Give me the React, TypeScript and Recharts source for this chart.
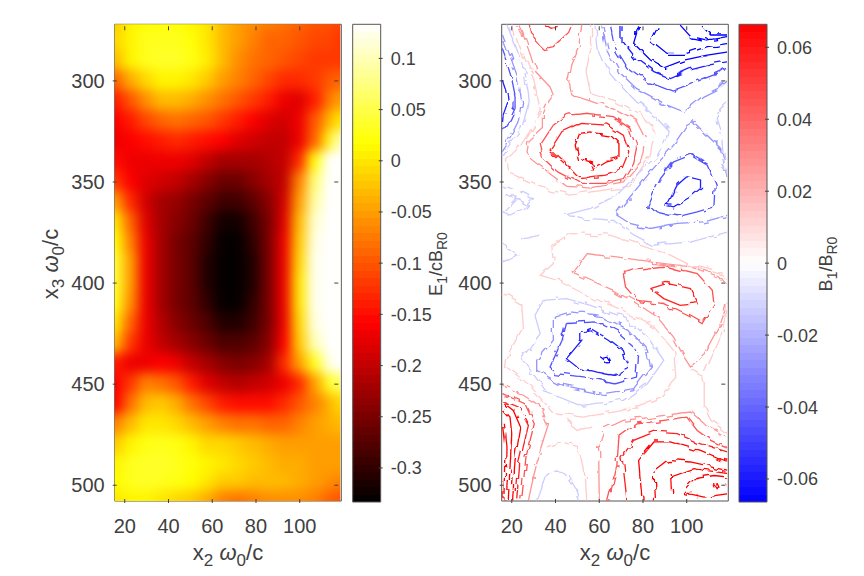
import { ReferenceArea, Scatter, ScatterChart, XAxis, YAxis } from 'recharts';

const W = 864;
const H = 576;
const FONT = '"Liberation Sans", Arial, sans-serif';
const INK = '#404040';

const xDomain = [15.4, 119];
const yDomain = [272, 507.8];
const xTicks = [20, 40, 60, 80, 100];
const yTicks = [300, 350, 400, 450, 500];
const eBarDomain = [-0.3333, 0.1333];
const eBarTicks = [0.1, 0.05, 0, -0.05, -0.1, -0.15, -0.2, -0.25, -0.3];
const bBarDomain = [-0.0664, 0.0664];
const bBarTicks = [0.06, 0.04, 0.02, 0, -0.02, -0.04, -0.06];

const heatX = [16, 23, 30, 37, 44, 51, 58, 65, 72, 79, 86, 93, 100, 107, 114, 119];
const heatY = [272, 280, 290, 300, 310, 320, 330, 340, 350, 360, 370, 380, 390, 400, 410, 420, 430, 440, 450, 460, 470, 480, 490, 500, 508];
const heatRows = [
  [-0.02, 0.01, 0.015, 0.02, 0.02, 0.01, 0, -0.03, -0.05, -0.06, -0.07, -0.08, -0.09, -0.1, -0.1, -0.11],
  [-0.01, 0.01, 0.03, 0.03, 0.03, 0.02, 0, -0.03, -0.05, -0.07, -0.09, -0.09, -0.1, -0.11, -0.11, -0.12],
  [-0.03, 0.01, 0.03, 0.035, 0.035, 0.025, 0.005, -0.03, -0.06, -0.08, -0.09, -0.1, -0.11, -0.12, -0.12, -0.12],
  [-0.09, -0.04, -0.01, 0.01, 0.01, 0, -0.02, -0.05, -0.07, -0.09, -0.11, -0.13, -0.13, -0.12, -0.1, -0.09],
  [-0.14, -0.1, -0.06, -0.03, -0.03, -0.04, -0.06, -0.08, -0.1, -0.12, -0.14, -0.17, -0.18, -0.14, -0.08, -0.05],
  [-0.16, -0.14, -0.11, -0.09, -0.08, -0.09, -0.1, -0.12, -0.14, -0.16, -0.18, -0.19, -0.17, -0.1, -0.04, 0],
  [-0.17, -0.16, -0.15, -0.14, -0.13, -0.14, -0.15, -0.16, -0.18, -0.19, -0.2, -0.2, -0.17, -0.09, 0.01, 0.1],
  [-0.15, -0.17, -0.17, -0.17, -0.17, -0.18, -0.2, -0.22, -0.22, -0.22, -0.21, -0.2, -0.13, 0.02, 0.133, 0.133],
  [-0.12, -0.16, -0.18, -0.19, -0.2, -0.22, -0.24, -0.26, -0.26, -0.24, -0.22, -0.2, -0.07, 0.07, 0.133, 0.133],
  [-0.05, -0.13, -0.19, -0.22, -0.23, -0.25, -0.27, -0.29, -0.29, -0.27, -0.24, -0.19, -0.05, 0.09, 0.133, 0.133],
  [0, -0.09, -0.18, -0.22, -0.24, -0.26, -0.29, -0.32, -0.32, -0.29, -0.25, -0.18, -0.03, 0.11, 0.133, 0.133],
  [0.02, -0.07, -0.17, -0.22, -0.25, -0.27, -0.3, -0.33, -0.33, -0.3, -0.25, -0.17, -0.02, 0.12, 0.133, 0.133],
  [0.04, -0.05, -0.17, -0.22, -0.25, -0.27, -0.31, -0.33, -0.33, -0.31, -0.25, -0.17, -0.01, 0.125, 0.133, 0.133],
  [0.04, -0.05, -0.17, -0.22, -0.25, -0.27, -0.31, -0.33, -0.33, -0.31, -0.25, -0.17, 0, 0.125, 0.133, 0.133],
  [0.03, -0.06, -0.17, -0.22, -0.25, -0.27, -0.3, -0.33, -0.33, -0.3, -0.25, -0.17, 0, 0.125, 0.133, 0.133],
  [0, -0.09, -0.17, -0.21, -0.24, -0.26, -0.28, -0.31, -0.31, -0.29, -0.25, -0.17, -0.01, 0.12, 0.133, 0.133],
  [-0.03, -0.12, -0.17, -0.2, -0.22, -0.24, -0.26, -0.28, -0.28, -0.27, -0.24, -0.16, -0.02, 0.1, 0.133, 0.133],
  [-0.14, -0.17, -0.17, -0.16, -0.17, -0.2, -0.22, -0.24, -0.25, -0.24, -0.22, -0.13, -0.05, 0.03, 0.12, 0.133],
  [-0.16, -0.12, -0.07, -0.08, -0.1, -0.14, -0.18, -0.2, -0.21, -0.2, -0.19, -0.17, -0.13, -0.05, 0.03, 0.06],
  [-0.16, -0.08, -0.03, -0.02, -0.04, -0.08, -0.11, -0.14, -0.15, -0.15, -0.15, -0.13, -0.1, -0.07, -0.04, -0.01],
  [-0.07, -0.03, 0, 0, -0.01, -0.03, -0.05, -0.07, -0.08, -0.08, -0.09, -0.09, -0.07, -0.05, -0.04, -0.03],
  [-0.02, 0.01, 0.025, 0.03, 0.025, 0.01, -0.01, -0.01, -0.02, -0.03, -0.04, -0.05, -0.05, -0.05, -0.05, -0.05],
  [0.01, 0.03, 0.035, 0.035, 0.03, 0.02, 0.01, 0, -0.01, -0.02, -0.03, -0.04, -0.04, -0.05, -0.05, -0.05],
  [0.015, 0.03, 0.035, 0.03, 0.025, 0.015, 0, -0.02, -0.02, -0.03, -0.03, -0.03, -0.04, -0.05, -0.06, -0.07],
  [0, 0.01, 0.01, 0, -0.01, -0.02, -0.04, -0.07, -0.08, -0.07, -0.06, -0.06, -0.06, -0.07, -0.09, -0.1],
];

type Contour = [number, number[][]];

const contoursTop: Contour[] = [
  [0.02, [[28, 272], [29, 277], [33, 282], [35, 284], [39, 283], [43, 279], [46, 276], [47.5, 272]]],
  [0.03, [[35, 272], [38, 274], [41, 273]]],
  [0.01, [[23, 272], [25, 276.5], [28, 285.5], [31, 295.5], [37.5, 303], [39, 307], [37, 310], [34, 317], [34, 323], [28, 329], [27, 335], [28, 338], [35, 344], [45, 352], [56, 353], [71, 350], [79, 340], [81, 328.5], [77, 320], [66.5, 314], [56, 310], [47.5, 307], [46, 300.5], [47.5, 292], [50.5, 284], [52, 272]]],
  [0.005, [[20, 272], [24, 284], [30, 299], [32, 309], [33, 314], [30, 322], [24, 332], [18, 338.5], [18.5, 345], [25, 348], [37.5, 354], [47, 356.5], [56, 355], [74, 352], [83, 337], [86, 325], [80, 317], [68, 310], [56, 306], [54, 295.5], [56, 284], [56, 272]]],
  [-0.03, [[15.7, 299.6], [17.3, 305], [18, 311], [16, 317], [15.7, 320]]],
  [-0.02, [[15.7, 285], [17.6, 290.5], [20, 299], [21.5, 307], [21.5, 313.6], [19, 319.4], [15.7, 325]]],
  [-0.01, [[15.7, 277], [19, 287], [23, 299], [24.5, 310], [23, 320], [19, 328.5], [15.7, 334]]],
  [-0.005, [[17.6, 272], [21.5, 282], [26, 295.5], [28, 310], [24.5, 323.5], [20, 330], [15.7, 336.7]]],
];

const contoursTopRight: Contour[] = [
  [-0.005, [[58, 272], [59, 284], [63, 294], [68, 300.4], [77, 310.3], [85, 317], [92, 325], [86.5, 337], [77, 346.6], [68, 356.5], [56, 363], [44, 366.4], [54, 368], [66.5, 369], [76, 376.3], [85, 381.3], [102, 379.6], [119, 374.7]]],
  [-0.01, [[61, 272], [63.5, 284], [69, 295.5], [77, 303.7], [91, 312], [98.7, 315.3], [108, 307], [115.5, 303], [119, 299.6]]],
  [-0.01, [[119, 350], [115.5, 333.4], [103, 320.2], [100, 322], [94, 331.8], [83.4, 345], [71, 361.5], [68, 366.4], [74, 370.5], [83.4, 373], [95.6, 370.5], [108, 369.7], [119, 366.4]]],
  [-0.005, [[119, 310.3], [115.5, 313.6], [113, 318.6], [116, 328.5], [117, 340], [119, 348.3]]],
  [-0.02, [[65, 273], [67, 283], [72.7, 293], [82, 300.4], [93, 305], [103, 301], [112.4, 297], [119, 293.8]]],
  [-0.03, [[70.4, 273], [70.4, 280], [77, 289], [85, 295.4], [92.6, 298.8], [101.7, 294.6], [111, 292], [119, 290.5]]],
  [-0.04, [[78, 273], [75.7, 281.4], [83.4, 289.7], [89.5, 293.5], [98.7, 289.7], [109.4, 287.2], [119, 285.6]]],
  [-0.05, [[86.5, 273], [83.4, 279.8], [91, 286.4], [100, 286.4], [109.4, 283], [119, 281.4]]],
  [-0.055, [[97, 272.4], [101.7, 278], [109.4, 279.8], [119, 278]]],
  [-0.06, [[107, 273], [111, 277.3], [119, 277.3]]],
  [-0.02, [[94, 340], [88, 348.3], [82.6, 361.5], [85.7, 364.8], [95.6, 367.2], [104.8, 364.8], [112.4, 362.3], [113, 351.6], [109.4, 341.7], [101.7, 336.7], [94, 340]]],
  [-0.03, [[100, 347.4], [95.6, 351.6], [91, 361.5], [94, 362.3], [101.7, 357.3], [106.3, 353.2], [106.3, 349], [100, 347.4]]],
];

const contoursCentre: Contour[] = [
  [0.02, [[45, 317], [39, 321.9], [33, 331.8], [34.5, 338.4], [41, 345], [51, 350.7], [62, 350.7], [71, 348.3], [75.7, 340], [77, 333.4], [74, 323.5], [66.5, 317.7], [54, 316], [45, 317]]],
  [0.03, [[51, 321], [43, 325], [37.5, 334.2], [45, 341.7], [51, 348.3], [62, 346.6], [70.4, 343.3], [73.5, 335], [71, 326.8], [63.5, 321.9], [51, 321]]],
  [0.04, [[51, 326], [49, 331.8], [50.5, 338.4], [56, 340], [57.4, 344], [63.5, 340], [69, 338.4], [69, 331], [65, 326.8], [56, 325.2], [51, 326]]],
  [-0.005, [[30.6, 416], [34.5, 408.5], [45, 407.7], [56, 411], [71, 416.8], [82, 426.7], [89.5, 438.2], [82, 449.8], [71, 458], [51, 460.5], [36, 453.9], [24.5, 437.4], [33, 425], [30.6, 416]]],
  [-0.01, [[39, 416.8], [46.7, 414.3], [60.5, 416], [74, 423.4], [82, 433.3], [83.4, 441.5], [75.7, 452.2], [62, 454.7], [43.6, 450.6], [31.4, 443.2], [31.4, 438.2], [39, 428.3], [39, 416.8]]],
  [-0.02, [[45, 420], [59, 419.2], [68, 424.2], [75.7, 431.6], [78, 436.5], [77, 446.5], [66.6, 449.8], [52.8, 446.5], [40.6, 444.8], [37.5, 441.5], [43, 428.3], [45, 420]]],
  [-0.03, [[52, 424.2], [56, 422.5], [65, 428.3], [71, 433.3], [73.5, 441.5], [66.6, 445.6], [59, 444], [49.8, 441.5], [45, 437.4], [52, 428.3], [52, 424.2]]],
  [-0.04, [[60.5, 436.5], [63.5, 435.7], [65, 438.2], [62.8, 438.5], [60.5, 436.5]]],
  [0.005, [[15.7, 404.4], [24.5, 410.2], [25.3, 421.7], [18.4, 434.9], [17.6, 441.5], [28.3, 450.6], [39, 464.6], [52.8, 466.3], [71, 463], [88, 456.4], [95, 446.5], [94, 433.3], [85, 421.7], [71, 413.5], [56, 406.9], [40.6, 398.6], [33, 396.1], [39, 390.4], [38.3, 381.3], [46.7, 375.5], [65, 376.3], [78.8, 381.3], [92.6, 386.2], [101.7, 391.2], [115.5, 395.3], [119, 398.6]]],
  [0.005, [[101.7, 443.2], [108, 446.5], [108, 461.3], [111, 467.9], [119, 474.5]]],
  [0.005, [[108, 444.8], [115.5, 426.7], [119, 410.2]]],
  [0.01, [[47.5, 394.5], [53.6, 385.4], [68, 387], [83.4, 389.5], [101.7, 392], [115.5, 397], [119, 402], [119, 408.5], [115.5, 420], [108, 434.9], [101.7, 441.5], [98.7, 436.5], [94, 426.7], [86.5, 416.8], [77.3, 410.2], [66.6, 403.6], [56, 398.6], [47.5, 394.5]]],
  [0.02, [[71, 395.3], [77.3, 392.8], [89.5, 391.2], [104.8, 395.3], [111.7, 403.6], [112.4, 410.2], [107, 420], [101.7, 416.8], [89.5, 410.2], [77.3, 408.5], [72, 401.9], [71, 395.3]]],
  [0.03, [[83.4, 402.7], [91, 400.2], [101.7, 402.7], [104.8, 410.2], [97, 411], [89.5, 407.7], [83.4, 402.7]]],
];

const contoursBottom: Contour[] = [
  [0.01, [[60, 507.5], [59.7, 481], [62.8, 472], [71, 467.9], [83.4, 466.3], [101.7, 463.8], [108, 469.6], [119, 476.2]]],
  [0.02, [[64.3, 507.5], [68, 491], [69, 476.2], [77.3, 469.6], [89.5, 467.9], [100, 466.3], [104.8, 472.9], [111, 477.8], [119, 482]]],
  [0.03, [[72.7, 507.5], [70.4, 486], [75.7, 477.8], [85, 473.7], [95.6, 474.5], [106.3, 479.5], [119, 483.6]]],
  [0.04, [[79.6, 507.5], [78, 487.7], [85, 478.6], [93.3, 478.6], [106.3, 482.8], [119, 488.5]]],
  [0.05, [[85.7, 507.5], [85, 492.7], [91, 487.7], [101.7, 488.5], [119, 492.7]]],
  [0.055, [[93.3, 507.5], [92.6, 496], [103.3, 491.8], [119, 494.3]]],
  [0.06, [[97.9, 503.4], [103.3, 496.8], [112.4, 495.2], [119, 496], [119, 504.2], [107.9, 505.9], [97.9, 503.4]]],
  [0.065, [[112, 500], [114, 499.3], [114.7, 501], [113, 501.7], [112, 500]]],
  [0.01, [[15.7, 450.6], [25.3, 455.5], [33.7, 461.3], [36.8, 469.6], [32.9, 482.8], [29.9, 496], [27.6, 507.5]]],
  [0.02, [[15.7, 454.7], [26, 459.7], [30.3, 469.6], [26.5, 486], [24.5, 507.5]]],
  [0.03, [[15.7, 458], [23, 461.3], [27.6, 470.4], [23.8, 487.7], [22.2, 507.5]]],
  [0.04, [[15.7, 458.8], [20.7, 463], [24, 471.2], [21.5, 487.7], [20.4, 507.5]]],
  [0.05, [[15.7, 462], [19.2, 466.3], [20, 474.5], [19.2, 491], [18.4, 507.5]]],
  [0.06, [[15.7, 469.6], [16.9, 481], [16.4, 507.5]]],
  [0.005, [[36, 481], [42.9, 478.6], [50.5, 481], [53.6, 496], [54.3, 507.5]]],
  [0.005, [[44.4, 467.9], [49.8, 472.9], [55.9, 471.2]]],
  [-0.005, [[31.4, 507.5], [35.2, 496], [38.3, 492.7], [45.2, 494.3], [49.8, 502.6], [51.3, 507.5]]],
  [-0.005, [[16, 351.6], [23.8, 354.9], [29.9, 358.2], [25.3, 363.1], [19.2, 366.4], [16, 364.8], [22, 358], [27, 361], [18, 356]]],
  [-0.005, [[16, 381.3], [22.2, 386.2], [16, 389.5]]],
  [-0.005, [[25.3, 378], [33, 376.3]]],
];

const allContours = [...contoursTop, ...contoursTopRight, ...contoursCentre, ...contoursBottom];

const heatPoints = heatRows.flatMap((row, r) => row.map((v, c) => ({ x: heatX[c], y: heatY[r], v, r, c })));

function hot(t: number) {
  const k = Math.max(0, Math.min(1, t));
  const r = Math.min(1, k / 0.375);
  const g = Math.max(0, Math.min(1, (k - 0.375) / 0.375));
  const b = Math.max(0, Math.min(1, (k - 0.75) / 0.25));
  return `rgb(${Math.round(r * 255)},${Math.round(g * 255)},${Math.round(b * 255)})`;
}

function bwr(t: number) {
  // t goes 0 (blue) to 1 (red)
  if (t < 0.5) {
    const c = Math.round((t / 0.5) * 255);
    return `rgb(${c},${c},255)`;
  }
  const c = Math.round(((1 - t) / 0.5) * 255);
  return `rgb(255,${c},${c})`;
}

function levelColor(level: number) {
  const a = Math.abs(level);
  const shade = a <= 0.005 ? 0.8 : a <= 0.01 ? 0.58 : a <= 0.02 ? 0.32 : a <= 0.03 ? 0.12 : 0;
  const c = Math.round(shade * 255);
  return level > 0 ? `rgb(255,${c},${c})` : `rgb(${c},${c},255)`;
}

function bandStops(colorAt: (t: number) => string) {
  const n = 64;
  const stops = [];
  for (let i = 0; i < n; i++) {
    const color = colorAt(1 - (i + 0.5) / n);
    stops.push(<stop key={`a${i}`} offset={i / n} stopColor={color} />);
    stops.push(<stop key={`b${i}`} offset={(i + 1) / n} stopColor={color} />);
  }
  return stops;
}

function HeatCell(props: any) {
  const { cx, cy, payload } = props;
  if (cx == null) return null;
  const pad = 34;
  let left = cx - 8.5;
  let right = cx + 8.5;
  let top = cy - 11;
  let bottom = cy + 11;
  if (payload.c === 0) left -= pad;
  if (payload.c === heatX.length - 1) right += pad;
  if (payload.r === 0) top -= pad;
  if (payload.r === heatY.length - 1) bottom += pad;
  const t = (payload.v - eBarDomain[0]) / (eBarDomain[1] - eBarDomain[0]);
  return <rect x={left} y={top} width={right - left} height={bottom - top} fill={hot(t)} />;
}

const makeXTick = (plotH: number) => (p: any) => (
  <g>
    <line x1={p.x} x2={p.x} y1={p.y} y2={p.y - 4} stroke={INK} />
    <line x1={p.x} x2={p.x} y1={p.y - plotH} y2={p.y - plotH + 4} stroke={INK} />
    <text x={p.x} y={p.y + 30} textAnchor="middle" fontSize={20} fontFamily={FONT} fill={INK}>
      {p.payload.value}
    </text>
  </g>
);

const makeYTick = (plotW: number) => (p: any) => (
  <g>
    <line x1={p.x} x2={p.x + 4} y1={p.y} y2={p.y} stroke={INK} />
    <line x1={p.x + plotW} x2={p.x + plotW - 4} y1={p.y} y2={p.y} stroke={INK} />
    <text x={p.x - 8} y={p.y + 7} textAnchor="end" fontSize={20} fontFamily={FONT} fill={INK}>
      {p.payload.value}
    </text>
  </g>
);

const BarTick = (p: any) => (
  <g>
    <line x1={p.x} x2={p.x - 4} y1={p.y} y2={p.y} stroke={INK} />
    <text x={p.x + 8} y={p.y + 6.5} textAnchor="start" fontSize={18} fontFamily={FONT} fill={INK}>
      {p.payload.value}
    </text>
  </g>
);

function OmegaLabel({ x, y, name, rotate }: { x: number; y: number; name: string; rotate?: boolean }) {
  return (
    <text
      x={x}
      y={y}
      textAnchor="middle"
      fontSize={22}
      fontFamily={FONT}
      fill={INK}
      transform={rotate ? `rotate(-90 ${x} ${y})` : undefined}
    >
      x
      <tspan dy={6} fontSize={17}>{name}</tspan>
      <tspan dy={-6} fontStyle="italic">{' ω'}</tspan>
      <tspan dy={6} fontSize={17}>0</tspan>
      <tspan dy={-6}>/c</tspan>
    </text>
  );
}

const panel = (left: number, right: number) => ({ left: left - 1, right: W - right - 1, top: 24.3, bottom: H - 501 - 1 });

function HeatPanel() {
  return (
    <ScatterChart width={W} height={H} margin={panel(114.7, 340.3)} style={{ position: 'absolute', left: 0, top: 0 }}>
      <defs>
        <clipPath id="heatClip" clipPathUnits="userSpaceOnUse">
          <rect x={114.7} y={24.3} width={225.6} height={476.7} />
        </clipPath>
      </defs>
      <Scatter className="heat" data={heatPoints} shape={HeatCell} isAnimationActive={false} />
      <ReferenceArea x1={xDomain[0]} x2={xDomain[1]} y1={yDomain[0]} y2={yDomain[1]} fill="none" stroke="#555" strokeWidth={1} ifOverflow="visible" />
      <XAxis type="number" dataKey="x" domain={xDomain} ticks={xTicks} height={1} tickSize={0} axisLine={false} tickLine={false} allowDataOverflow interval={0} tick={makeXTick(476.7)} />
      <YAxis type="number" dataKey="y" domain={yDomain} ticks={yTicks} width={1} tickSize={0} axisLine={false} tickLine={false} allowDataOverflow interval={0} reversed tick={makeYTick(225.6)} />
      <OmegaLabel x={228} y={560} name="2" />
      <OmegaLabel x={58} y={264} name="3" rotate />
    </ScatterChart>
  );
}

function ContourPanel() {
  return (
    <ScatterChart width={W} height={H} margin={panel(501.7, 727.3)} style={{ position: 'absolute', left: 0, top: 0 }}>
      <defs>
        <clipPath id="lineClip" clipPathUnits="userSpaceOnUse">
          <rect x={501.7} y={24.3} width={225.6} height={476.7} />
        </clipPath>
        <filter id="rough" filterUnits="userSpaceOnUse" x={480} y={0} width={270} height={530} colorInterpolationFilters="sRGB">
          <feTurbulence type="fractalNoise" baseFrequency={0.08} numOctaves={2} seed={4} result="n" />
          <feDisplacementMap in="SourceGraphic" in2="n" scale={4} xChannelSelector="R" yChannelSelector="G" />
        </filter>
      </defs>
      {allContours.map(([level, pts], i) => (
        <Scatter
          key={i}
          className="contour"
          data={pts.map(([x, y]) => ({ x, y }))}
          fill="none"
          line={{ stroke: levelColor(level), strokeWidth: 1.3 }}
          shape={() => null}
          isAnimationActive={false}
        />
      ))}
      <ReferenceArea x1={xDomain[0]} x2={xDomain[1]} y1={yDomain[0]} y2={yDomain[1]} fill="none" stroke="#555" strokeWidth={1} ifOverflow="visible" />
      <XAxis type="number" dataKey="x" domain={xDomain} ticks={xTicks} height={1} tickSize={0} axisLine={false} tickLine={false} allowDataOverflow interval={0} tick={makeXTick(476.7)} />
      <YAxis type="number" dataKey="y" domain={yDomain} ticks={yTicks} width={1} tickSize={0} axisLine={false} tickLine={false} allowDataOverflow interval={0} reversed tick={makeYTick(225.6)} />
      <OmegaLabel x={615} y={560} name="2" />
    </ScatterChart>
  );
}

function ColorBar({ left, right, domain, ticks, gradId, stops }: any) {
  return (
    <ScatterChart width={W} height={H} margin={panel(left, right)} style={{ position: 'absolute', left: 0, top: 0 }}>
      <defs>
        <linearGradient id={gradId} x1="0" x2="0" y1="0" y2="1">
          {stops}
        </linearGradient>
      </defs>
      <XAxis type="number" dataKey="x" domain={[0, 1]} hide />
      <YAxis type="number" dataKey="y" orientation="right" domain={domain} ticks={ticks} width={1} tickSize={0} axisLine={false} tickLine={false} allowDataOverflow interval={0} tick={BarTick} />
      <Scatter data={[{ x: 0, y: 0 }]} fill="none" shape={() => null} isAnimationActive={false} />
      <ReferenceArea x1={0} x2={1} y1={domain[0]} y2={domain[1]} fill={`url(#${gradId})`} fillOpacity={1} stroke="#555" strokeWidth={1} ifOverflow="visible" />
    </ScatterChart>
  );
}

function BarTitle({ x, lead, unit }: { x: number; lead: string; unit: string }) {
  return (
    <svg width={W} height={H} style={{ position: 'absolute', left: 0, top: 0 }}>
      <text x={x} y={264} textAnchor="middle" fontSize={18} fontFamily={FONT} fill={INK} transform={`rotate(-90 ${x} 264)`}>
        {lead}
        <tspan dy={5} fontSize={14}>1</tspan>
        <tspan dy={-5}>{unit}</tspan>
        <tspan dy={5} fontSize={14}>R0</tspan>
      </text>
    </svg>
  );
}

export default function App() {
  return (
    <div style={{ position: 'absolute', left: 0, top: 0, width: W, height: H, background: '#fff', overflow: 'hidden' }}>
      <style>{`
        .heat { filter: blur(6px); clip-path: url(#heatClip); }
        .contour { filter: url(#rough); clip-path: url(#lineClip); }
      `}</style>
      <HeatPanel />
      <ColorBar left={353.7} right={380.7} domain={eBarDomain} ticks={eBarTicks} gradId="hotBar" stops={bandStops(hot)} />
      <ContourPanel />
      <ColorBar left={740} right={767} domain={bBarDomain} ticks={bBarTicks} gradId="bwrBar" stops={bandStops(bwr)} />
      <BarTitle x={442} lead="E" unit="/cB" />
      <BarTitle x={832} lead="B" unit="/B" />
    </div>
  );
}
